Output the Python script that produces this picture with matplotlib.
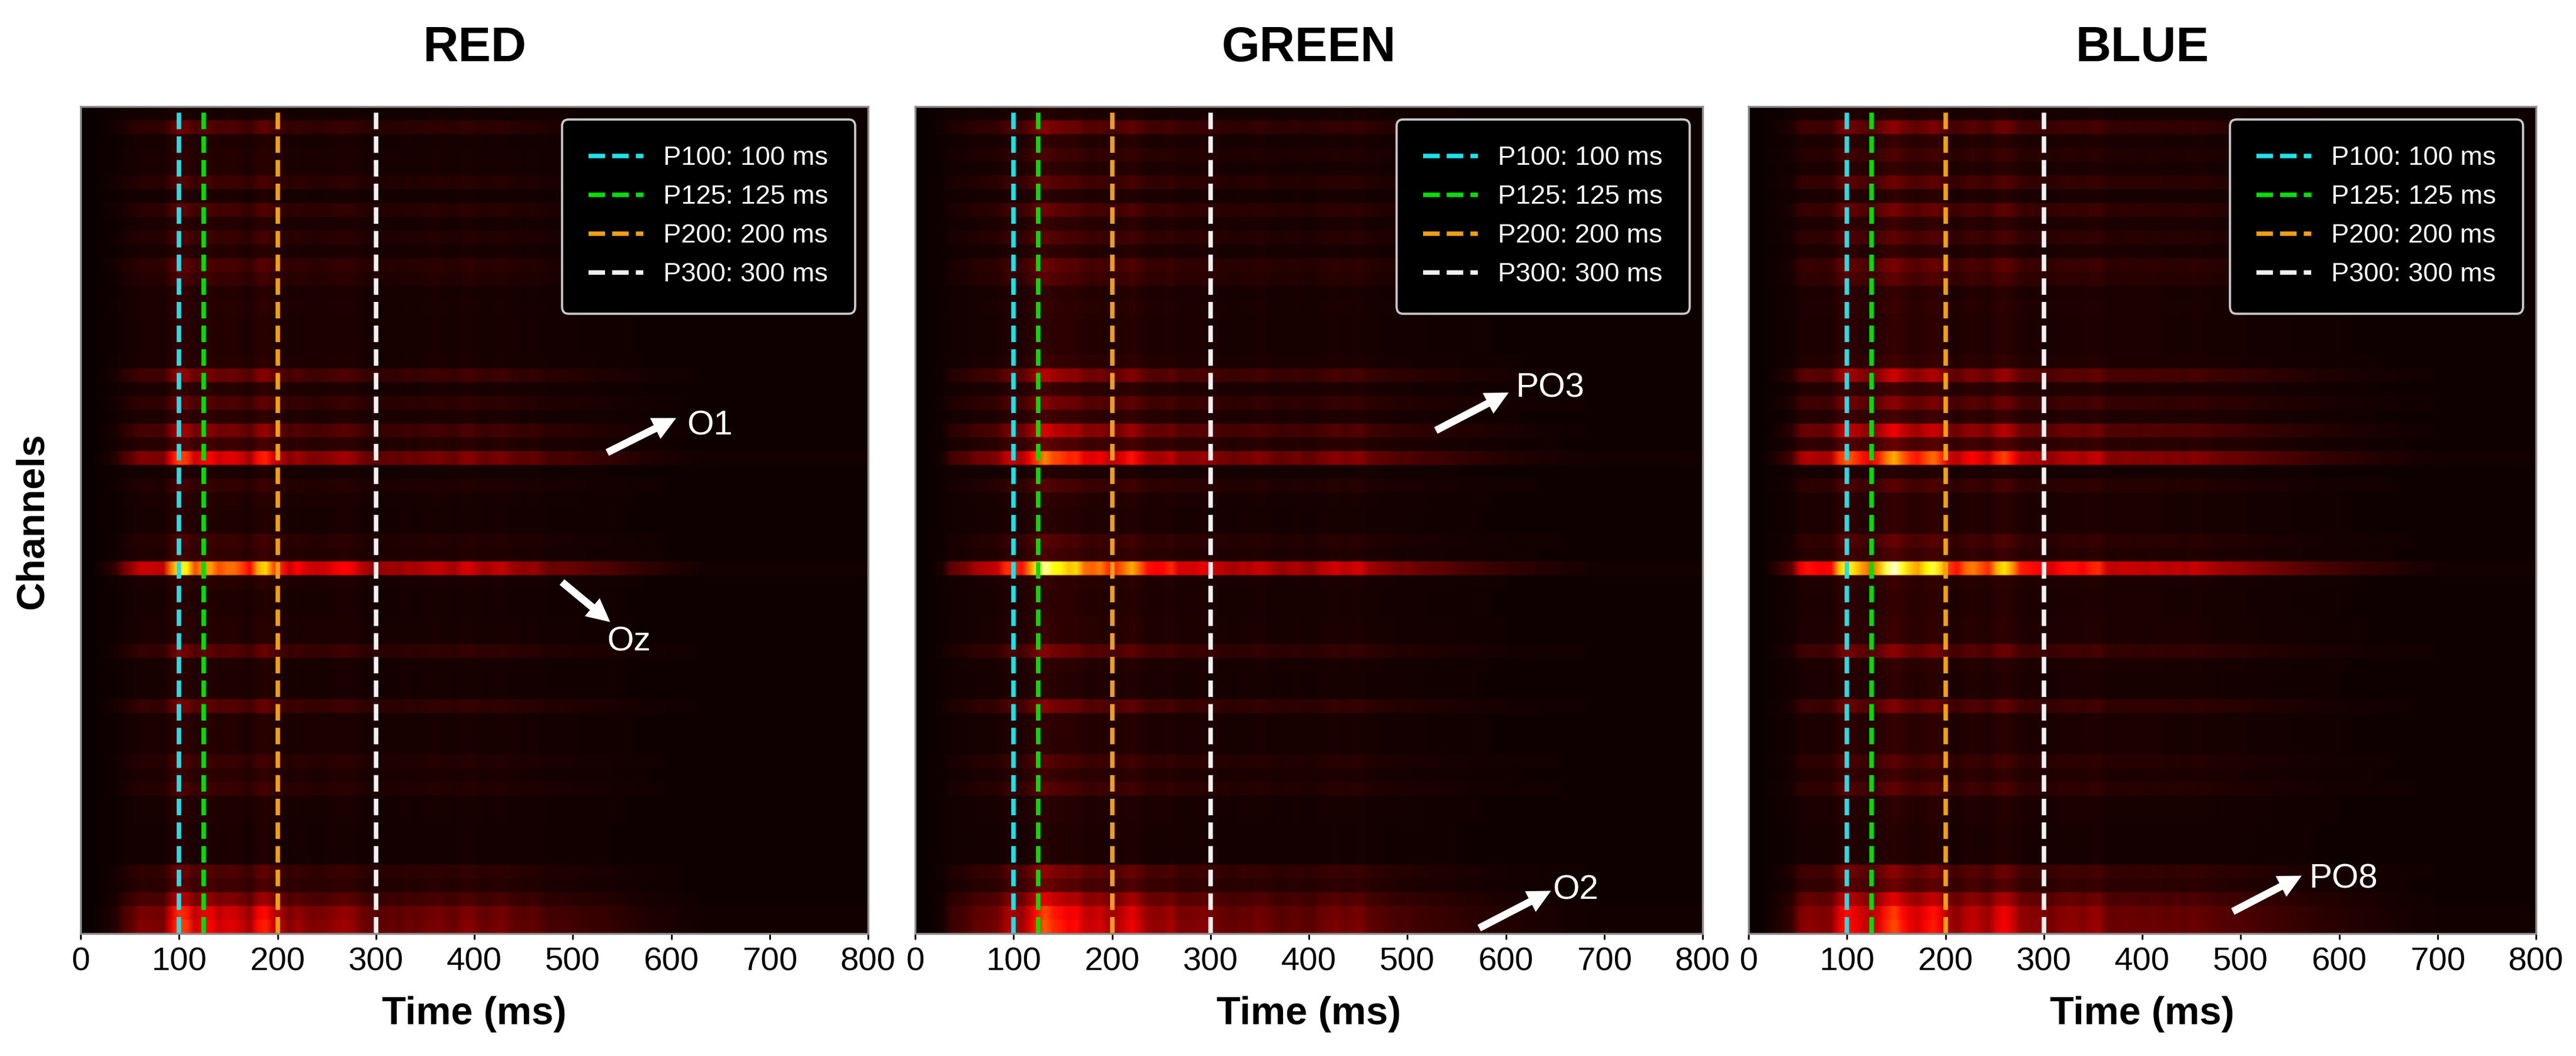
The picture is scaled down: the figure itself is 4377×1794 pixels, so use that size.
# -*- coding: utf-8 -*-
"""Channel x time activation maps for the red / green / blue stimuli."""
import numpy as np
import matplotlib
matplotlib.use("Agg")
import matplotlib.pyplot as plt

plt.rcParams['font.family'] = ['Liberation Sans', 'DejaVu Sans']

BIN_MS = 8
N_CHANNELS = 60

# activation of the strongest channel (Oz) per 8 ms bin
RED_TIME = [
    0, 0, .01, .03, .06, .15, .2, .28, .28, .27,
    .26, .55, .78, .72, .47, .58, .6, .47, .52, .52,
    .45, .36, .62, .68, .48, .4, .28, .36, .3, .28,
    .28, .3, .34, .36, .34, .26, .22, .2, .2, .22,
    .2, .24, .22, .24, .26, .27, .24, .22, .29, .3,
    .24, .22, .25, .27, .22, .2, .19, .21, .17, .13,
    .14, .14, .13, .12, .11, .1, .1, .09, .08, .07,
    .06, .05, .04, .04, .03, .03, .02, .02, .01, .01,
    .01, .01, .01, .01, .01, .01, .01, .01, .01, .01,
    .01, .01, .01, .01, .01, .01, .01, .01, .01, .01,
]
GREEN_TIME = [
    0, 0, .005, .02, .12, .14, .16, .22, .24, .25,
    .28, .42, .44, .37, .55, .74, .9, .76, .72, .65,
    .68, .52, .5, .55, .43, .44, .52, .62, .5, .38,
    .36, .36, .42, .3, .3, .3, .33, .3, .26, .24,
    .22, .25, .24, .28, .26, .22, .2, .22, .24, .2,
    .2, .25, .27, .3, .25, .28, .3, .22, .2, .19,
    .17, .15, .16, .14, .13, .12, .12, .11, .1, .09,
    .08, .08, .07, .06, .06, .05, .05, .04, .04, .03,
    .03, .03, .02, .02, .02, .01, .01, .01, .01, .01,
    .01, .01, .01, .01, .01, .01, .01, .01, .01, .01,
]
BLUE_TIME = [
    0, 0, .01, .04, .08, .12, .33, .38, .36, .34,
    .36, .65, .78, .68, .58, .5, .62, .82, .95, .78,
    .66, .6, .72, .8, .66, .44, .38, .5, .55, .48,
    .42, .62, .7, .58, .4, .38, .36, .35, .3, .36,
    .38, .38, .34, .4, .42, .28, .26, .28, .28, .27,
    .26, .28, .26, .25, .27, .24, .28, .26, .24, .22,
    .21, .2, .2, .18, .17, .16, .15, .14, .13, .12,
    .11, .1, .09, .08, .08, .07, .06, .06, .05, .05,
    .04, .04, .03, .03, .02, .02, .02, .01, .01, .01,
    .01, .01, .01, .01, .01, .01, .01, .01, .01, .01,
]

# relative gain of each channel, top row first
RED_GAIN = [
    .03, .18, .05, .06, .06, .13, .04, .15, .06, .12,
    .06, .16, .12, .06, .07, .06, .06, .06, .07, .26,
    .07, .18, .08, .3, .13, .6, .04, .1, .06, .05,
    .05, .12, .1, 1.0, .07, .05, .05, .06, .06, .2,
    .05, .05, .05, .2, .06, .06, .06, .12, .08, .12,
    .05, .05, .04, .04, .04, .18, .14, .32, .55, .6,
]
GREEN_GAIN = [
    .04, .2, .06, .1, .06, .14, .05, .16, .07, .13,
    .06, .16, .13, .06, .07, .06, .06, .06, .08, .28,
    .08, .2, .09, .34, .14, .62, .04, .12, .06, .05,
    .05, .13, .1, 1.0, .07, .06, .06, .07, .07, .2,
    .06, .05, .05, .2, .06, .06, .06, .13, .08, .13,
    .05, .05, .04, .04, .04, .22, .16, .36, .52, .55,
]
BLUE_GAIN = [
    .04, .2, .06, .1, .06, .15, .05, .17, .07, .13,
    .06, .17, .13, .06, .07, .06, .06, .06, .08, .3,
    .08, .2, .09, .36, .14, .65, .04, .12, .06, .06,
    .06, .14, .1, 1.0, .07, .06, .06, .07, .07, .2,
    .06, .05, .05, .18, .06, .06, .06, .12, .08, .13,
    .05, .05, .04, .04, .04, .2, .15, .34, .48, .5,
]

PANEL_NAMES = ['RED', 'GREEN', 'BLUE']
XTICKS = [0, 100, 200, 300, 400, 500, 600, 700, 800]

PEAK_NAMES = ['P100', 'P125', 'P200', 'P300']
PEAK_TIMES = [100, 125, 200, 300]
PEAK_COLORS = ['#1FE0E8', '#00E000', '#F0A010', '#F0F0F0']

# label, arrow tail (ms, row), arrow head (ms, row), text centre (ms, row)
RED_NOTES = [('O1', (535, 25.1), (605, 22.6), (639, 23.15)),
             ('Oz', (489, 34.5), (538, 37.4), (557, 38.85))]
GREEN_NOTES = [('PO3', (529, 23.5), (603, 20.75), (645, 20.45)),
               ('O2', (573, 59.6), (646, 56.9), (671, 56.85))]
BLUE_NOTES = [('PO8', (492, 58.4), (562, 55.8), (604, 56.05))]

BASELINE = 0.008


def build_map(gain, profile):
    """channel x time matrix, rows repeated so bilinear only softens the edges."""
    profile = np.asarray(profile, dtype=float)
    mat = np.outer(gain, profile) + BASELINE * (profile > 0)
    return np.repeat(mat, 10, axis=0)


def draw_panel(ax, name, gain, profile, notes):
    ax.imshow(build_map(gain, profile), cmap='hot', vmin=0, vmax=1, aspect='auto',
              interpolation='bilinear',
              extent=[0, len(profile) * BIN_MS, N_CHANNELS, 0])
    for pname, t, c in zip(PEAK_NAMES, PEAK_TIMES, PEAK_COLORS):
        ax.axvline(t, color=c, ls='--', lw=1.82, label=f'{pname}: {t} ms')

    for label, tail, head, pos in notes:
        ax.annotate('', xy=head, xytext=tail,
                    arrowprops=dict(facecolor='white', edgecolor='white', lw=0,
                                    width=3.0, headwidth=9.5, headlength=9.5,
                                    shrink=0))
        ax.text(pos[0], pos[1], label, color='white', fontsize=14,
                ha='center', va='center')

    ax.set_title(name, fontsize=20, fontweight='bold', pad=18.5)
    ax.set_xlabel('Time (ms)', fontsize=16, fontweight='bold', labelpad=7.5)
    ax.set_xticks(XTICKS)
    ax.set_yticks([])
    ax.tick_params(axis='x', labelsize=13.5, length=2.5, width=0.7, pad=3)
    for sp in ax.spines.values():
        sp.set_color('#8c8c8c')
        sp.set_linewidth(0.8)

    leg = ax.legend(loc='upper right', bbox_to_anchor=(0.9835, 0.9843),
                    borderaxespad=0, fontsize=10.9, facecolor='black',
                    edgecolor='#c8c8c8', framealpha=1.0, labelcolor='white',
                    borderpad=1.0, labelspacing=0.55, handlelength=2.05,
                    handletextpad=0.75)
    leg.get_frame().set_linewidth(0.9)
    leg.get_frame().set_boxstyle('round', pad=0, rounding_size=0.25)


def main():
    W, H = 4377, 1794
    fig = plt.figure(figsize=(W / 300, H / 300), dpi=300)
    lefts = [137, 1555, 2971]
    for left, name, gain, profile, notes in zip(
            lefts, PANEL_NAMES,
            [RED_GAIN, GREEN_GAIN, BLUE_GAIN],
            [RED_TIME, GREEN_TIME, BLUE_TIME],
            [RED_NOTES, GREEN_NOTES, BLUE_NOTES]):
        ax = fig.add_axes([left / W, 1 - 1586 / H, 1338 / W, 1405 / H])
        draw_panel(ax, name, gain, profile, notes)
    fig.text(56 / W, 1 - 885 / H, 'Channels', rotation=90, fontsize=16,
             fontweight='bold', ha='center', va='center')
    fig.savefig('out.png', dpi=300)
    plt.close(fig)


if __name__ == "__main__":
    main()
